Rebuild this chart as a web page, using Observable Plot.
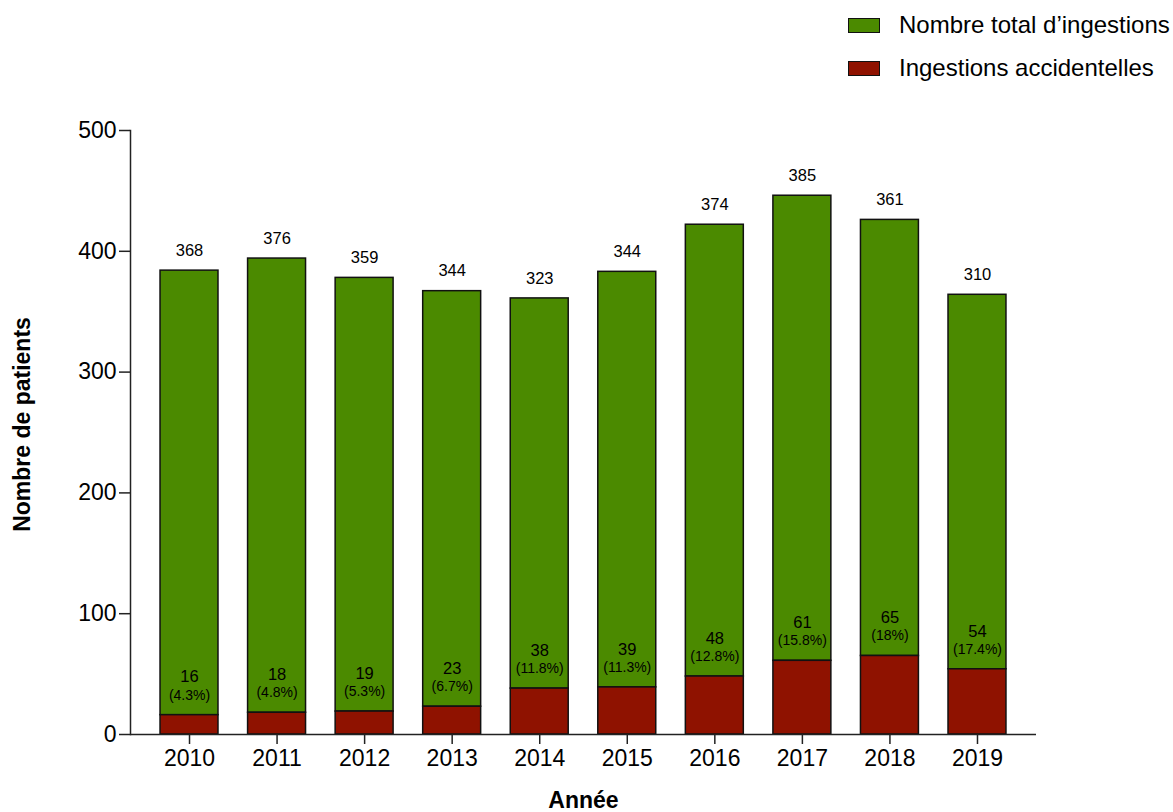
<!DOCTYPE html>
<html>
<head>
<meta charset="utf-8">
<script src="https://cdn.jsdelivr.net/npm/d3@7"></script>
<script src="https://cdn.jsdelivr.net/npm/@observablehq/plot@0.6"></script>
<style>
  html, body { margin: 0; padding: 0; background: #fff; }
  #wrap { position: relative; width: 1173px; height: 812px; font-family: "Liberation Sans", Arial, Helvetica, sans-serif; }
  #legend { position: absolute; left: 848px; top: 0; }
  .row { position: absolute; left: 0; display: flex; align-items: center; white-space: nowrap; font-size: 24px; color: #000; }
  .sw { width: 30px; height: 13px; border: 1.5px solid #111; margin-right: 19px; }
  #chart svg [aria-label="x-axis label"] text, #chart svg [aria-label="y-axis label"] text,
  #chart svg [aria-label="x-axis label"], #chart svg [aria-label="y-axis label"] { font-weight: bold; }
</style>
</head>
<body>
<div id="wrap">
  <div id="chart"></div>
  <div id="legend"></div>
</div>
<script>
const years = ["2010","2011","2012","2013","2014","2015","2016","2017","2018","2019"];
const totalIngestions = [368, 376, 359, 344, 323, 344, 374, 385, 361, 310];
const accidentalIngestions = [16, 18, 19, 23, 38, 39, 48, 61, 65, 54];
const accidentalPct = [4.3, 4.8, 5.3, 6.7, 11.8, 11.3, 12.8, 15.8, 18, 17.4];
const yTicks = [0, 100, 200, 300, 400, 500];
const seriesNames = ["Nombre total d\u2019ingestions", "Ingestions accidentelles"];
const seriesColors = ["#4b8a00", "#8f1200"];

const rows = years.map((y, i) => ({
  year: y,
  acc: accidentalIngestions[i],
  total: totalIngestions[i],
  top: accidentalIngestions[i] + totalIngestions[i],
  pct: "(" + accidentalPct[i] + "%)"
}));

const font = "'Liberation Sans', Arial, Helvetica, sans-serif";

const chart = Plot.plot({
  width: 1173,
  height: 812,
  marginTop: 130,
  marginBottom: 78,
  marginLeft: 130,
  marginRight: 137,
  style: { fontFamily: font, fontSize: "23px", color: "#000", background: "transparent" },
  x: { domain: years, paddingInner: 0.338, paddingOuter: 0.343, round: false },
  y: { domain: [0, 500] },
  marks: [
    Plot.barY(rows, { x: "year", y1: "acc", y2: "top", fill: seriesColors[0], stroke: "#111", strokeWidth: 1.5 }),
    Plot.barY(rows, { x: "year", y1: 0, y2: "acc", fill: seriesColors[1], stroke: "#111", strokeWidth: 1.5 }),
    Plot.text(rows, { x: "year", y: "top", text: d => String(d.total), dy: -20, fontSize: 16.5, fill: "#000" }),
    Plot.text(rows, { x: "year", y: "acc", text: d => String(d.acc), dy: -38, fontSize: 16.5, fill: "#000" }),
    Plot.text(rows, { x: "year", y: "acc", text: "pct", dy: -20, fontSize: 14, fill: "#000" }),
    Plot.axisY({ ticks: yTicks, tickSize: 11, tickPadding: 3, fontSize: 23, stroke: "#222", strokeWidth: 1.5,
      label: null }),
    Plot.axisX({ tickSize: 10, tickPadding: 5, fontSize: 23, stroke: "#222", strokeWidth: 1.5,
      label: "Année", labelAnchor: "center", labelArrow: "none", labelOffset: 73 }),
    Plot.text(["Nombre de patients"], { frameAnchor: "left", textAnchor: "middle", dx: -108, dy: -8, rotate: -90, fontSize: 23, fontWeight: "bold", fill: "#000" }),
    Plot.frame({ anchor: "left", stroke: "#222", strokeWidth: 1.5 }),
    Plot.ruleY([0], { stroke: "#222", strokeWidth: 1.5 })
  ]
});
document.getElementById("chart").appendChild(chart);

const legend = document.getElementById("legend");
seriesNames.forEach((name, i) => {
  const row = document.createElement("div");
  row.className = "row";
  row.style.top = (i === 0 ? 11 : 54) + "px";
  const sw = document.createElement("div");
  sw.className = "sw";
  sw.style.background = seriesColors[i];
  const t = document.createElement("span");
  t.textContent = name;
  row.appendChild(sw);
  row.appendChild(t);
  legend.appendChild(row);
});
</script>
</body>
</html>
